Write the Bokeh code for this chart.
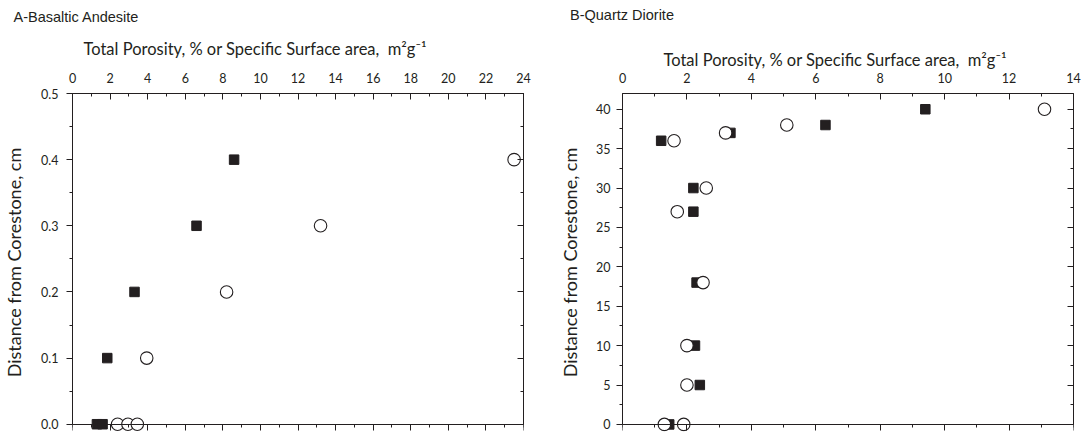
from bokeh.plotting import figure
from bokeh.models import (Range1d, LinearAxis, SingleIntervalTicker, PrintfTickFormatter,
                          Title, CustomJSTickFormatter, Div)
from bokeh.layouts import row, column
from bokeh.embed import file_html
from bokeh.resources import INLINE

# ---------------- data ----------------
# Panel A - Basaltic Andesite (x: total porosity % or SSA; y: distance from corestone, cm)
a_square_x = [1.3, 1.6, 1.85, 3.3, 6.6, 8.6]
a_square_y = [0.0, 0.0, 0.1, 0.2, 0.3, 0.4]
a_circle_x = [2.4, 2.95, 3.45, 3.95, 8.2, 13.2, 23.5]
a_circle_y = [0.0, 0.0, 0.0, 0.1, 0.2, 0.3, 0.4]

# Panel B - Quartz Diorite
b_square_x = [1.45, 2.4, 2.25, 2.3, 2.2, 2.2, 1.2, 3.35, 6.3, 9.4]
b_square_y = [0, 5, 10, 18, 27, 30, 36, 37, 38, 40]
b_circle_x = [1.3, 1.9, 2.0, 2.0, 2.5, 1.7, 2.6, 1.6, 3.2, 5.1, 13.1]
b_circle_y = [0, 0, 5, 10, 18, 27, 30, 36, 37, 38, 40]

panel_titles = ["A-Basaltic Andesite", "B-Quartz Diorite"]
x_title = "Total Porosity, % or Specific Surface area,\u00a0 m\u00b2g\u207b\u00b9"
y_title = "Distance from Corestone, cm"

INK = "#231f20"
FONT = "Lato"
TITLE_FONT = "Liberation Sans"


def blank_formatter():
    return CustomJSTickFormatter(code="return ''")


def make_panel(width, height, top_border, bl, br, xmax, xint, ymin, ymax, yint, yfmt,
               sq_x, sq_y, ci_x, ci_y, xt_offset, xt_standoff,
               ylab_standoff, ytick_standoff, title=None, title_offset=0, title_standoff=0):
    p = figure(width=width, height=height, title=None,
               x_range=Range1d(0, xmax), y_range=Range1d(ymin, ymax),
               x_axis_location="above", y_axis_location="left",
               output_backend="svg", toolbar_location=None,
               min_border_left=bl, min_border_right=br,
               min_border_top=top_border, min_border_bottom=3)
    p.xgrid.visible = False
    p.ygrid.visible = False
    p.outline_line_color = None
    p.background_fill_color = "white"
    p.border_fill_color = "white"

    xt = SingleIntervalTicker(interval=xint, num_minor_ticks=2)
    yt = SingleIntervalTicker(interval=yint, num_minor_ticks=2)

    # top axis (labelled)
    top = p.xaxis[0]
    top.ticker = xt
    top.axis_line_color = INK
    top.major_tick_line_color = INK
    top.minor_tick_line_color = INK
    top.major_tick_in = 6
    top.major_tick_out = 0
    top.minor_tick_in = 3
    top.minor_tick_out = 0
    top.major_label_standoff = 11
    top.major_label_text_font = FONT
    top.major_label_text_font_size = "12.5px"
    top.major_label_text_color = INK

    # left axis
    left = p.yaxis[0]
    left.ticker = yt
    left.bounds = (0, ymax)
    left.formatter = PrintfTickFormatter(format=yfmt)
    left.axis_line_color = INK
    left.major_tick_line_color = INK
    left.minor_tick_line_color = INK
    left.major_tick_out = 6
    left.major_tick_in = 0
    left.minor_tick_out = 3
    left.minor_tick_in = 0
    left.major_label_standoff = ytick_standoff
    left.major_label_text_font = FONT
    left.major_label_text_font_size = "12.5px"
    left.major_label_text_color = INK
    left.axis_label = y_title
    left.axis_label_text_font = FONT
    left.axis_label_text_font_style = "normal"
    left.axis_label_text_font_size = "18px"
    left.axis_label_text_color = INK
    left.axis_label_standoff = ylab_standoff

    # right axis (no labels, ticks inward)
    right = LinearAxis(ticker=SingleIntervalTicker(interval=yint, num_minor_ticks=2),
                       formatter=blank_formatter(), bounds=(0, ymax),
                       axis_line_color=INK, major_tick_line_color=INK, minor_tick_line_color=INK,
                       major_tick_in=6, major_tick_out=0, minor_tick_in=3, minor_tick_out=0,
                       major_label_standoff=0, major_label_text_font_size="1px")
    p.add_layout(right, "right")

    # bottom axis drawn at y = 0 (ticks pointing down, no labels)
    bottom = LinearAxis(ticker=SingleIntervalTicker(interval=xint, num_minor_ticks=2),
                        formatter=blank_formatter(), fixed_location=0,
                        axis_line_color=INK, major_tick_line_color=INK, minor_tick_line_color=INK,
                        major_tick_in=6, major_tick_out=0, minor_tick_in=3, minor_tick_out=0,
                        major_label_standoff=0, major_label_text_font_size="1px")
    p.add_layout(bottom, "above")

    p.scatter(sq_x, sq_y, marker="square", size=9.5, fill_color=INK, line_color=INK)
    p.scatter(ci_x, ci_y, marker="circle", size=12.5, fill_color="white",
              line_color=INK, line_width=1.1)

    p.add_layout(Title(text=x_title, align="left", offset=xt_offset, standoff=xt_standoff,
                       text_font=FONT, text_font_size="16.5px", text_font_style="normal",
                       text_color=INK), "above")
    if title is not None:
        p.add_layout(Title(text=title, align="left", offset=title_offset, standoff=title_standoff,
                           text_font=TITLE_FONT, text_font_size="14.5px", text_font_style="normal",
                           text_color=INK), "above")
    return p


pA = make_panel(540, 434, 93, 72, 17, 24, 2, -0.011, 0.5, 0.1, "%.1f",
                a_square_x, a_square_y, a_circle_x, a_circle_y,
                xt_offset=11, xt_standoff=21, ylab_standoff=13, ytick_standoff=8,
                title=panel_titles[0], title_offset=-59, title_standoff=4)

DIV_H = 30
divB = Div(text=panel_titles[1], width=541, height=DIV_H, margin=(0, 0, 0, 0),
           styles={"font-family": "'Liberation Sans', Arial, sans-serif",
                   "font-size": "14.5px", "color": INK, "line-height": "30px",
                   "text-indent": "30px", "white-space": "nowrap"})
pB = make_panel(541, 434 - DIV_H, 93 - DIV_H, 82, 8, 14, 2, -0.9, 42, 5, "%d",
                b_square_x, b_square_y, b_circle_x, b_circle_y,
                xt_offset=41, xt_standoff=0, ylab_standoff=12, ytick_standoff=6)

layout = row(pA, column(divB, pB))
open("out.html", "w").write(file_html(layout, INLINE))
